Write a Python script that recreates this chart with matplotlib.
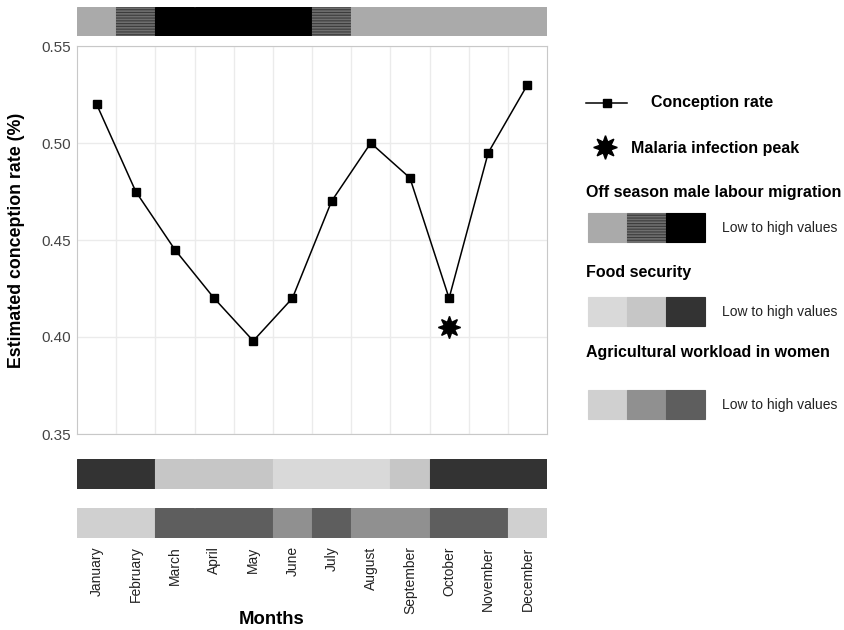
import matplotlib.pyplot as plt
import numpy as np

plt.rcParams['font.family'] = ['Liberation Sans', 'DejaVu Sans']
plt.rcParams['hatch.linewidth'] = 0.8

# --- Données ---
months = ["January", "February", "March", "April", "May", "June", "July",
          "August", "September", "October", "November", "December"]
conception_rate = [0.520, 0.475, 0.445, 0.420, 0.398, 0.420, 0.470,
                   0.500, 0.482, 0.420, 0.495, 0.530]
malaria_month = 10
malaria_value = 0.405

# niveaux 0 = bas, 1 = moyen, 2 = haut
migration_level = [0, 1, 2, 2, 2, 2, 1, 0, 0, 0, 0, 0]
food_level = [2, 2, 1, 1, 1, 0, 0, 0, 1, 2, 2, 2]
workload_level = [0, 0, 2, 2, 2, 1, 2, 1, 1, 2, 2, 0]

migration_colors = ["#aaaaaa", "#6e6e6e", "#000000"]
food_colors = ["#d9d9d9", "#c6c6c6", "#333333"]
workload_colors = ["#d0d0d0", "#909090", "#5e5e5e"]
hatch_color = "#3c3c3c"   # rayures du niveau moyen de migration

W, H = 844, 630
fig = plt.figure(figsize=(W / 100, H / 100), dpi=100)


def px_axes(x0, y0, x1, y1):
    # axes placé en pixels (origine en haut à gauche)
    return fig.add_axes([x0 / W, 1 - y1 / H, (x1 - x0) / W, (y1 - y0) / H])


def cell(a, xc, y0, h, w, color, striped=False):
    # bord de la même couleur pour éviter les liserés blancs entre cases
    a.bar(xc, h, width=w, bottom=y0, color=color, edgecolor=color, lw=0.8)
    if striped:
        a.bar(xc, h, width=w, bottom=y0, facecolor="none", edgecolor=hatch_color,
              hatch="------", lw=0)


x = np.arange(1, len(months) + 1)

# --- Graphique principal ---
ax = px_axes(77, 46, 547, 434)
ax.plot(x, conception_rate, color="black", lw=1.1, marker="s", ms=6, zorder=3)
ax.plot([malaria_month], [malaria_value], marker=(8, 1, 0), color="black",
        ms=16, ls="none", zorder=3)
ax.set_xlim(0.5, 12.5)
ax.set_ylim(0.35, 0.55)
ax.set_yticks([0.35, 0.40, 0.45, 0.50, 0.55])
ax.set_yticklabels(["0.35", "0.40", "0.45", "0.50", "0.55"], fontsize=11, color="#444444")
ax.set_xticks(np.arange(1.5, 12.5, 1))
ax.set_xticklabels([])
ax.tick_params(length=0, pad=4.5)
ax.grid(True, color="#ebebeb", lw=1)
for s in ax.spines.values():
    s.set_color("#c8c8c8")
ax.set_ylabel("Estimated conception rate (%)", fontsize=12.8, weight="bold")
ax.yaxis.set_label_coords(-0.11, 0.5)


def band(y0, y1, levels, colors, striped_mid=False):
    b = px_axes(77, y0, 547, y1)
    for xi, lv in zip(x, levels):
        cell(b, xi, 0, 1, 1.0, colors[lv], striped=striped_mid and lv == 1)
    b.set_xlim(0.5, 12.5)
    b.set_ylim(0, 1)
    b.set_yticks([])
    b.set_xticks([])
    for s in b.spines.values():
        s.set_visible(False)
    return b


band(7, 36, migration_level, migration_colors, striped_mid=True)
band(459, 489, food_level, food_colors)
bw = band(508, 538, workload_level, workload_colors)
bw.set_xticks(x)
bw.set_xticklabels(months, rotation=90, fontsize=10, color="#222222", va="top")
bw.tick_params(length=0, pad=6)
fig.text(272 / W, 1 - 620 / H, "Months", ha="center", va="center",
         fontsize=13.3, weight="bold")

# --- Légende ---
lg = px_axes(560, 0, 844, 630)
lg.set_xlim(560, 844)
lg.set_ylim(630, 0)
lg.axis("off")
lg.plot([586, 627], [103, 103], color="black", lw=1.1)
lg.plot([607], [103], marker="s", color="black", ms=6)
lg.text(651, 103, "Conception rate", fontsize=11.5, weight="bold", va="center")
lg.plot([605], [147], marker=(8, 1, 0), color="black", ms=17)
lg.text(631, 148, "Malaria infection peak", fontsize=11.5, weight="bold", va="center")

titles = ["Off season male labour migration", "Food security", "Agricultural workload in women"]
title_y = [192, 273, 353]
box_y = [213, 297, 390]
palettes = [migration_colors, food_colors, workload_colors]
for i, (t, ty, by, pal) in enumerate(zip(titles, title_y, box_y, palettes)):
    lg.text(586, ty, t, fontsize=11.5, weight="bold", va="center")
    for k, c in enumerate(pal):
        cell(lg, 588 + 19.5 + 39 * k, by, 29, 39, c, striped=(i == 0 and k == 1))
    lg.text(722, by + 15, "Low to high values", fontsize=10, va="center", color="#222222")

fig.savefig("out.png", dpi=100)
